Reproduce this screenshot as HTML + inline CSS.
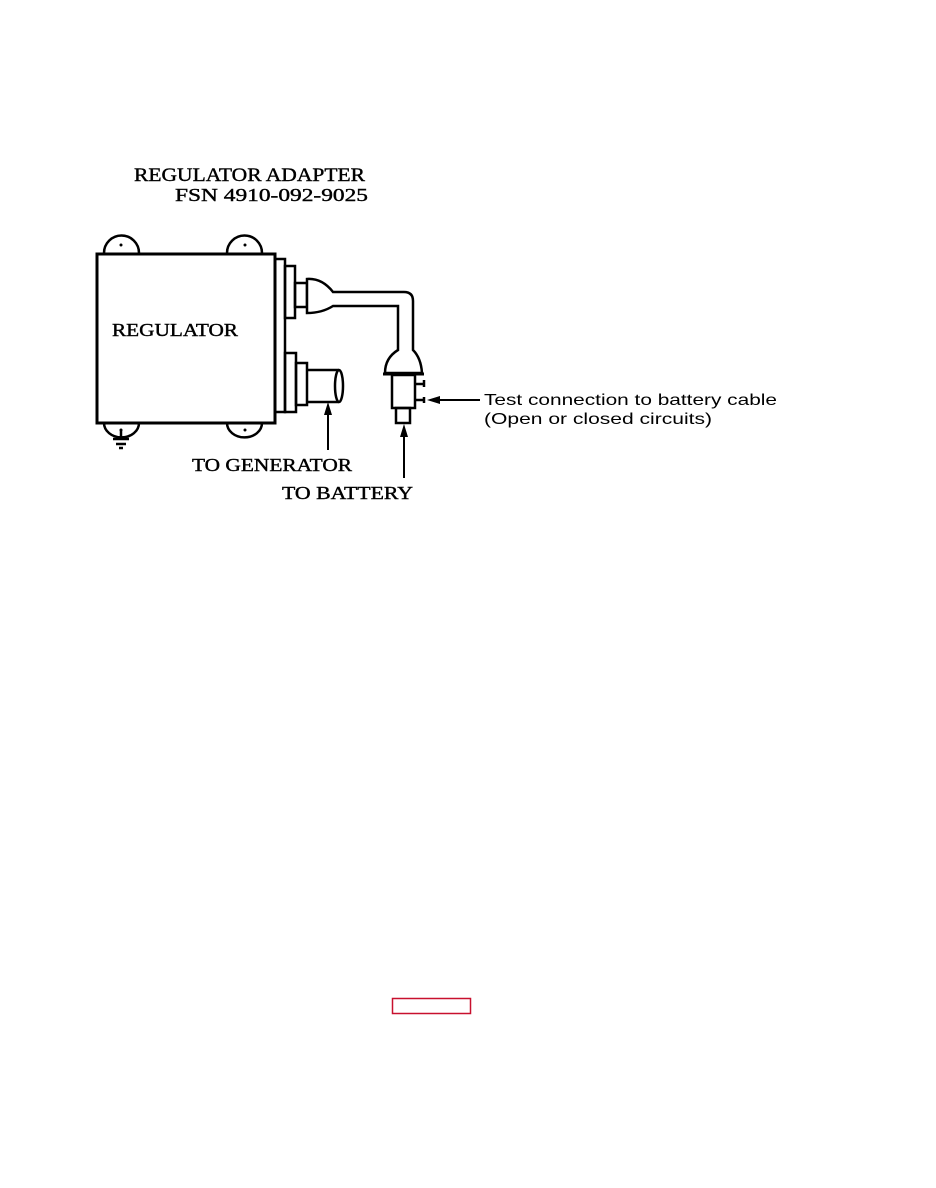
<!DOCTYPE html>
<html><head><style>
html,body{margin:0;padding:0;background:#fff;}
svg{display:block;}
</style></head><body>
<svg width="936" height="1188" viewBox="0 0 936 1188" xmlns="http://www.w3.org/2000/svg">
<g fill="none" stroke="#000" stroke-width="2.5">
<path d="M104 253 A17 17 0 0 1 139 253" fill="#fff"/>
<path d="M227 253 A17 17 0 0 1 262 253" fill="#fff"/>
<path d="M104 423 A17 14 0 0 0 139 423" fill="#fff"/>
<path d="M227 423 A17 14 0 0 0 262 423" fill="#fff"/>
<rect x="97" y="254" width="178" height="169" stroke-width="3"/>
<rect x="275" y="259" width="10" height="153"/>
<rect x="285" y="266" width="10" height="52"/>
<rect x="285" y="353" width="11" height="59"/>
<rect x="296" y="363" width="11" height="42"/>
<rect x="295" y="283" width="12" height="24"/>
<path d="M307 279 Q322 278 333 292 L404 292 Q413 292 413 301 L413 350 Q421 358 422 373 L385 373 Q385 358 398 350 L398 306 L333 306 Q322 313 307 313 Z" fill="#fff"/>
<line x1="383" y1="374" x2="424" y2="374" stroke-width="3"/>
<rect x="392" y="375" width="23" height="33"/>
<rect x="396" y="408" width="14" height="15"/>
<line x1="415" y1="384" x2="424" y2="384"/>
<line x1="424" y1="380" x2="424" y2="387"/>
<line x1="415" y1="400" x2="424" y2="400"/>
<line x1="424" y1="397" x2="424" y2="403"/>
<path d="M307 370 L339 370 M307 402 L339 402"/>
<ellipse cx="339" cy="386" rx="4" ry="16"/>
<line x1="121" y1="430" x2="121" y2="439"/>
<line x1="113" y1="439" x2="129" y2="439"/>
<line x1="116" y1="444" x2="126" y2="444"/>
<line x1="119" y1="448" x2="123" y2="448"/>
<line x1="328" y1="412" x2="328" y2="450" stroke-width="2"/>
<line x1="404" y1="432" x2="404" y2="478" stroke-width="2"/>
<line x1="436" y1="400" x2="480" y2="400" stroke-width="2"/>
</g>
<g fill="#000">
<circle cx="121" cy="245" r="1.5"/><circle cx="245" cy="245" r="1.5"/>
<circle cx="121" cy="430" r="1.5"/><circle cx="245" cy="430" r="1.5"/>
<polygon points="328,402 324,415 332,415"/>
<polygon points="404,424 400,437 408,437"/>
<polygon points="427,400 440,396 440,404"/>
</g>
<g font-family="Liberation Serif, serif" fill="#000" stroke="#000" stroke-width="0.4">
<text x="134" y="181" font-size="19" textLength="231" lengthAdjust="spacingAndGlyphs">REGULATOR ADAPTER</text>
<text x="175" y="201" font-size="18" textLength="193" lengthAdjust="spacingAndGlyphs">FSN 4910-092-9025</text>
<text x="112" y="336" font-size="18" textLength="126" lengthAdjust="spacingAndGlyphs">REGULATOR</text>
<text x="192" y="471" font-size="18" textLength="160" lengthAdjust="spacingAndGlyphs">TO GENERATOR</text>
<text x="282" y="499" font-size="18" textLength="131" lengthAdjust="spacingAndGlyphs">TO BATTERY</text>
</g>
<g font-family="Liberation Sans, sans-serif" font-size="16" fill="#000">
<text x="484" y="405" textLength="293" lengthAdjust="spacingAndGlyphs">Test connection to battery cable</text>
<text x="484" y="424" textLength="228" lengthAdjust="spacingAndGlyphs">(Open or closed circuits)</text>
</g>
<rect x="392.5" y="998.5" width="78" height="15" fill="none" stroke="#c8102e" stroke-width="1.5"/>
</svg>
</body></html>
